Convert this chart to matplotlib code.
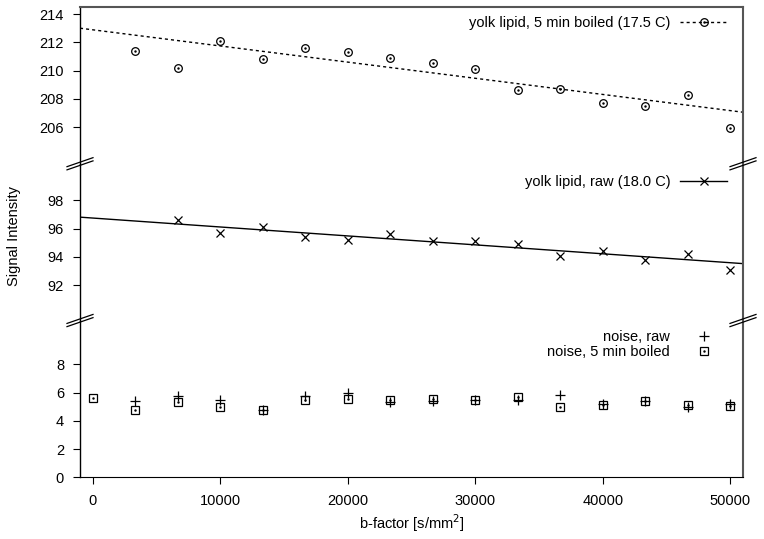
import matplotlib
matplotlib.use("Agg")
import matplotlib.pyplot as plt
from matplotlib.lines import Line2D

plt.rcParams["font.family"] = ["Liberation Sans", "DejaVu Sans"]
plt.rcParams["font.size"] = 10.5

# b-factor steps [s/mm^2]
b_all = [0, 3333.3, 6666.7, 10000, 13333.3, 16666.7, 20000, 23333.3,
         26666.7, 30000, 33333.3, 36666.7, 40000, 43333.3, 46666.7, 50000]

# yolk lipid, 5 min boiled (starts at 3333)
b_boiled = b_all[1:]
sig_boiled = [211.4, 210.2, 212.1, 210.8, 211.6, 211.3, 210.9, 210.5,
              210.1, 208.6, 208.7, 207.7, 207.5, 208.3, 205.9]

# yolk lipid, raw (starts at 6667)
b_raw = b_all[2:]
sig_raw = [96.6, 95.7, 96.1, 95.4, 95.2, 95.6, 95.1, 95.1,
           94.9, 94.1, 94.4, 93.8, 94.2, 93.1]

# noise
b_noise_raw = b_all[1:]
noise_raw = [5.4, 5.75, 5.45, 4.75, 5.75, 5.95, 5.3, 5.4, 5.45, 5.5,
             5.8, 5.2, 5.4, 5.0, 5.2]
b_noise_boiled = b_all
noise_boiled = [5.65, 4.75, 5.35, 4.95, 4.75, 5.45, 5.55, 5.45, 5.55, 5.45,
                5.7, 5.0, 5.1, 5.4, 5.15, 5.05]

# fitted lines (ends at the plot edges)
fit_b = [-1000, 51000]
fit_boiled = [213.0, 207.05]
fit_raw = [96.82, 93.53]

xlim = (-1000, 51000)
ylims = [(203.4, 214.5), (89.5, 100.6), (0, 11.1)]
yticks = [[206, 208, 210, 212, 214], [92, 94, 96, 98], [0, 2, 4, 6, 8]]

W, H = 764, 539
fig = plt.figure(figsize=(W / 100, H / 100), dpi=100)

left = 80 / W
width = (743 - 80) / W
bottom = (H - 477.3) / H
ph = (477.3 - 7) / 3 / H

axes = []
for i in range(3):
    ax = fig.add_axes([left, bottom + (2 - i) * ph, width, ph])
    ax.set_xlim(*xlim)
    ax.set_ylim(*ylims[i])
    ax.set_yticks(yticks[i])
    ax.tick_params(axis="y", direction="out", length=5, width=0.8, pad=6.5,
                   right=False)
    ax.spines["left"].set_linewidth(1.0)
    ax.spines["right"].set_color("#555555")
    ax.spines["right"].set_linewidth(1.5)
    ax.spines["top"].set_visible(i == 0)
    ax.spines["top"].set_color("#555555")
    ax.spines["top"].set_linewidth(1.5)
    ax.spines["bottom"].set_visible(i == 2)
    if i < 2:
        ax.set_xticks([])
    else:
        ax.set_xticks([0, 10000, 20000, 30000, 40000, 50000])
        ax.tick_params(axis="x", direction="out", length=5, width=0.8, pad=7,
                       top=False)
    axes.append(ax)

ax_top, ax_mid, ax_bot = axes

# top: boiled yolk lipid
fl, = ax_top.plot(fit_b, fit_boiled, color="black", lw=1.0, ls=(0, (2.2, 2.2)))
pts, = ax_top.plot(b_boiled, sig_boiled, ls="none", marker="o", ms=5.5,
                   mfc="none", mec="black", mew=0.9)
dots, = ax_top.plot(b_boiled, sig_boiled, ls="none", marker=".", ms=1.5,
                    color="black")
h_top = Line2D([], [], color="black", lw=1.0, ls=(0, (2.2, 2.2)), marker="o",
               ms=5.5, mfc="none", mec="black", mew=0.9)
h_top_dot = Line2D([], [], ls="none", marker=".", ms=1.5, color="black")
ax_top.legend([(h_top, h_top_dot)], ["yolk lipid, 5 min boiled (17.5 C)"],
              loc="center right", bbox_to_anchor=(0.976, 0.900),
              markerfirst=False, frameon=False, borderpad=0, borderaxespad=0,
              handlelength=3.2, handletextpad=0.7)

# middle: raw yolk lipid
ax_mid.plot(fit_b, fit_raw, color="black", lw=1.0)
ax_mid.plot(b_raw, sig_raw, ls="none", marker="x", ms=5.5, color="black",
            mew=0.9)
h_mid = Line2D([], [], color="black", lw=1.0, marker="x", ms=5.5, mew=0.9)
ax_mid.legend([h_mid], ["yolk lipid, raw (18.0 C)"],
              loc="center right", bbox_to_anchor=(0.976, 0.885),
              markerfirst=False, frameon=False, borderpad=0, borderaxespad=0,
              handlelength=3.2, handletextpad=0.7)

# bottom: noise
ax_bot.plot(b_noise_raw, noise_raw, ls="none", marker="+", ms=6.5,
            color="black", mew=0.9)
ax_bot.plot(b_noise_boiled, noise_boiled, ls="none", marker="s", ms=5.5,
            mfc="none", mec="black", mew=0.9)
ax_bot.plot(b_noise_boiled, noise_boiled, ls="none", marker=".", ms=1.5,
            color="black")
h_plus = Line2D([], [], ls="none", marker="+", ms=6.5, color="black", mew=0.9)
h_sq = Line2D([], [], ls="none", marker="s", ms=5.5, mfc="none", mec="black",
              mew=0.9)
h_sq_dot = Line2D([], [], ls="none", marker=".", ms=1.5, color="black")
ax_bot.legend([h_plus, (h_sq, h_sq_dot)], ["noise, raw", "noise, 5 min boiled"],
              loc="center right", bbox_to_anchor=(0.976, 0.847),
              markerfirst=False, frameon=False, borderpad=0, borderaxespad=0,
              handlelength=3.2, handletextpad=0.7, labelspacing=0.05)

# break marks on both spines
dx, dy, gap = 13 / W, 4.5 / H, 1.6 / H
for yb in [bottom + ph, bottom + 2 * ph]:
    for xb in [left, left + width]:
        for off in [gap, -gap]:
            fig.add_artist(Line2D([xb - dx, xb + dx],
                                  [yb + off - dy, yb + off + dy],
                                  color="black", lw=0.9))

fig.text(14 / W, 1 - 236 / H, "Signal Intensity", rotation=90,
         ha="center", va="center")
fig.text(411.5 / W, 1 - 523 / H, "b-factor [s/mm$^2$]", ha="center",
         va="center")

fig.savefig("out.png", dpi=100)
